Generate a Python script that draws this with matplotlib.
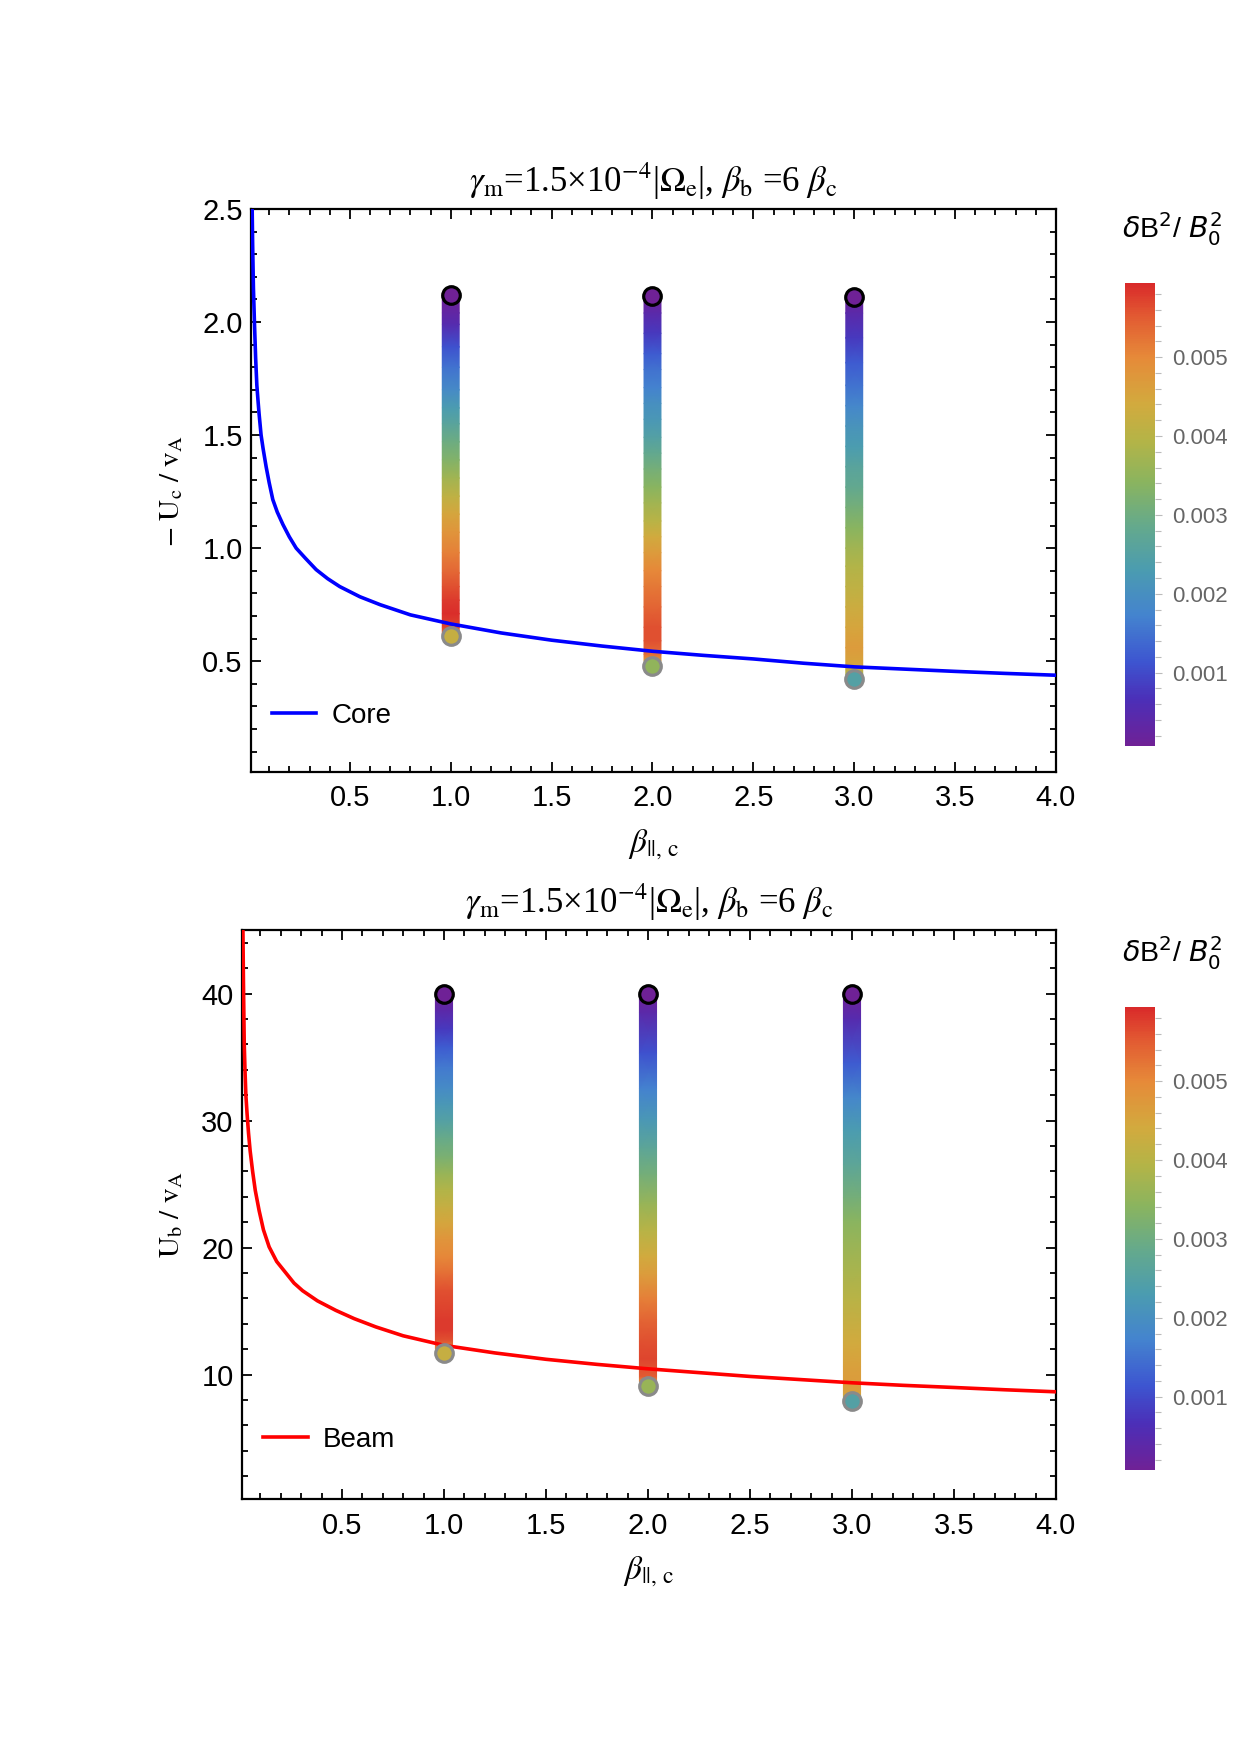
import numpy as np
import matplotlib
matplotlib.use("Agg")
import matplotlib.pyplot as plt
from matplotlib.colors import LinearSegmentedColormap, Normalize
from matplotlib.cm import ScalarMappable
from matplotlib.ticker import MultipleLocator, FormatStrFormatter

plt.rcParams['font.family'] = ['Liberation Sans', 'DejaVu Sans']
plt.rcParams['mathtext.fontset'] = 'stix'

# threshold curves
beta_core = [0.012, 0.015, 0.018, 0.022, 0.027, 0.033, 0.039, 0.045, 0.05, 0.06, 0.07, 0.085,
             0.1, 0.118, 0.14, 0.168, 0.2, 0.234, 0.28, 0.333, 0.39, 0.45, 0.55, 0.65, 0.8,
             0.9, 1.0, 1.25, 1.5, 1.75, 2.0, 2.25, 2.5, 2.75, 3.0, 3.25, 3.5, 3.75, 4.0]
u_core = [2.85, 2.55, 2.35, 2.15, 2.0, 1.84, 1.72, 1.65, 1.595, 1.50, 1.44, 1.36,
          1.29, 1.215, 1.16, 1.105, 1.05, 1.0, 0.955, 0.905, 0.865, 0.83, 0.785, 0.75, 0.705,
          0.685, 0.665, 0.625, 0.593, 0.567, 0.544, 0.526, 0.51, 0.491, 0.475, 0.465, 0.455,
          0.446, 0.438]

beta_beam = [0.012, 0.014, 0.017, 0.021, 0.025, 0.029, 0.035, 0.042, 0.05, 0.062, 0.075,
             0.094, 0.115, 0.143, 0.18, 0.225, 0.265, 0.307, 0.38, 0.47, 0.56, 0.666, 0.8,
             1.0, 1.25, 1.5, 1.75, 2.0, 2.25, 2.5, 2.75, 3.0, 3.25, 3.5, 3.75, 4.0]
u_beam = [50, 46, 41, 36, 33.8, 32.0, 30.5, 29.0, 27.6, 26.0, 24.5,
          22.9, 21.4, 20.05, 18.9, 18.0, 17.2, 16.6, 15.8, 15.05, 14.4, 13.75, 13.05,
          12.3, 11.7, 11.2, 10.8, 10.45, 10.15, 9.85, 9.6, 9.35, 9.15, 8.98, 8.8, 8.64]

beta_runs = [1.0, 2.0, 3.0]

# core drift runs (U, dB^2/B0^2)
core_u_1 = [2.12, 2.04, 1.99, 1.89, 1.80, 1.70, 1.62, 1.55, 1.47, 1.39, 1.31, 1.23, 1.15, 1.07,
            0.98, 0.89, 0.83, 0.77, 0.71, 0.65, 0.62]
core_db_1 = [0.00007, 0.0003, 0.0005, 0.0011, 0.0015, 0.0019, 0.0023, 0.0026, 0.0030, 0.0033,
             0.0037, 0.0041, 0.0045, 0.0048, 0.0051, 0.0054, 0.0056, 0.0058, 0.0059, 0.0057,
             0.0052]
core_u_2 = [2.115, 2.04, 1.95, 1.86, 1.79, 1.71, 1.64, 1.57, 1.49, 1.42, 1.35, 1.27, 1.20, 1.12,
            1.05, 0.98, 0.90, 0.83, 0.74, 0.65, 0.59, 0.53, 0.50]
core_db_2 = [0.00007, 0.0004, 0.0008, 0.0012, 0.0015, 0.0017, 0.0020, 0.0022, 0.0025, 0.0028,
             0.0031, 0.0034, 0.0037, 0.0040, 0.0044, 0.0047, 0.0050, 0.0052, 0.0054, 0.0056,
             0.0056, 0.0053, 0.0046]
core_u_3 = [2.11, 2.04, 1.93, 1.82, 1.72, 1.63, 1.54, 1.45, 1.36, 1.27, 1.18, 1.09, 1.00, 0.92,
            0.83, 0.74, 0.65, 0.56, 0.48, 0.44]
core_db_3 = [0.00007, 0.0004, 0.0008, 0.0012, 0.0015, 0.0018, 0.0021, 0.0023, 0.0026, 0.0028,
             0.0031, 0.0034, 0.0037, 0.0039, 0.0041, 0.0043, 0.0045, 0.0047, 0.0045, 0.0038]
core_end_u = [0.61, 0.48, 0.42]
core_end_db = [0.0042, 0.0035, 0.0025]

# beam drift runs
beam_u_1 = [40.0, 38.6, 37.2, 35.8, 34.2, 32.6, 31.3, 30.0, 28.6, 27.1, 25.8, 24.5, 23.2, 21.9,
            20.6, 19.3, 17.9, 16.6, 15.4, 14.3, 13.5, 12.7, 12.0]
beam_db_1 = [0.00007, 0.0004, 0.0008, 0.0012, 0.0016, 0.0019, 0.0022, 0.0025, 0.0029, 0.0032,
             0.0036, 0.0039, 0.0042, 0.0045, 0.0048, 0.0050, 0.0053, 0.0056, 0.0057, 0.0058,
             0.0058, 0.0056, 0.0050]
beam_u_2 = [40.0, 38.5, 35.3, 32.5, 30.1, 27.8, 25.7, 23.4, 21.3, 19.3, 17.8, 16.0, 14.3, 12.6,
            11.2, 9.8, 9.4]
beam_db_2 = [0.00007, 0.0004, 0.0011, 0.0017, 0.0022, 0.0027, 0.0031, 0.0036, 0.0040, 0.0044,
             0.0047, 0.0051, 0.0054, 0.0056, 0.0057, 0.0055, 0.0047]
beam_u_3 = [40.0, 38.0, 34.5, 31.8, 29.2, 26.5, 23.9, 22.1, 20.4, 18.2, 16.0, 14.2, 12.5, 10.6,
            9.0, 8.4, 8.1]
beam_db_3 = [0.00007, 0.0005, 0.0012, 0.0018, 0.0023, 0.0027, 0.0031, 0.0034, 0.0036, 0.0038,
             0.0040, 0.0042, 0.0044, 0.0046, 0.0047, 0.0045, 0.0038]
beam_end_u = [11.7, 9.1, 7.9]
beam_end_db = [0.0042, 0.0036, 0.0025]

cbar_ticks = [0.001, 0.002, 0.003, 0.004, 0.005]
db_min, db_max = 0.00007, 0.00594

# Mathematica-like rainbow
rainbow_pos = [0.0, 0.10, 0.18, 0.28, 0.38, 0.48, 0.57, 0.66, 0.74, 0.84, 0.93, 1.0]
rainbow_hex = ['#6f2196', '#4b2fb8', '#3d55d0', '#4483cf', '#4b9cb0', '#66aa8a', '#8ab45f',
               '#b4b447', '#d2aa3e', '#e68a39', '#e25a32', '#d92a2a']
cmap = LinearSegmentedColormap.from_list('rainbow_m', list(zip(rainbow_pos, rainbow_hex)))
norm = Normalize(vmin=db_min, vmax=db_max)

W, H = 1241, 1754
fig = plt.figure(figsize=(W / 100, H / 100), dpi=100)

title = r'$\gamma_{\rm m}$=1.5×10$^{-4}$|$\Omega_{\rm e}$|, $\beta_{\rm b}$ =6 $\beta_{\rm c}$'
xlab = r'$\beta_{||,\,\rm c}$'
serif = ['Liberation Serif', 'DejaVu Serif']


def frac(x0, y0, x1, y1):
    return [x0 / W, 1 - y1 / H, (x1 - x0) / W, (y1 - y0) / H]


def draw_run(ax, x, u, db, end_u, end_db, half_w=0.042):
    u = np.asarray(u, float)
    db = np.asarray(db, float)
    X = np.column_stack([np.full_like(u, x - half_w), np.full_like(u, x + half_w)])
    Y = np.column_stack([u, u])
    C = np.column_stack([db, db])
    ax.pcolormesh(X, Y, C, shading='gouraud', cmap=cmap, norm=norm, zorder=3)
    ax.scatter([x], [u[0]], s=160, c=[db[0]], cmap=cmap, norm=norm,
               edgecolors='black', linewidths=2.3, zorder=5)
    ax.scatter([x], [end_u], s=160, c=[end_db], cmap=cmap, norm=norm,
               edgecolors='#8a8a8a', linewidths=2.3, zorder=5)


def style_axes(ax, ymajor, yminor, yfmt):
    ax.set_xlim(0.01, 4.0)
    ax.xaxis.set_major_locator(MultipleLocator(0.5))
    ax.xaxis.set_minor_locator(MultipleLocator(0.1))
    ax.xaxis.set_major_formatter(FormatStrFormatter('%.1f'))
    ax.yaxis.set_major_locator(MultipleLocator(ymajor))
    ax.yaxis.set_minor_locator(MultipleLocator(yminor))
    ax.yaxis.set_major_formatter(FormatStrFormatter(yfmt))
    ax.tick_params(which='both', direction='in', top=True, right=True, width=1.3)
    ax.tick_params(which='major', length=7, labelsize=21, pad=9)
    ax.tick_params(which='minor', length=4)
    ax.tick_params(axis='y', pad=6)
    for s in ax.spines.values():
        s.set_linewidth(1.6)
    ax.set_title(title, fontsize=25, family=serif, pad=12)
    ax.set_xlabel(xlab, fontsize=24, family=serif, labelpad=11)


def add_cbar(y0, y1, title_y):
    cax = fig.add_axes(frac(1125, y0, 1155, y1))
    cb = fig.colorbar(ScalarMappable(norm=norm, cmap=cmap), cax=cax)
    cb.outline.set_visible(False)
    cb.set_ticks(cbar_ticks)
    cb.ax.yaxis.set_major_formatter(FormatStrFormatter('%.3f'))
    cb.ax.yaxis.set_minor_locator(MultipleLocator(0.0002))
    cb.ax.tick_params(which='both', colors='#bbbbbb', labelcolor='#666666', width=0.8)
    cb.ax.tick_params(which='major', length=5, labelsize=16, pad=7)
    cb.ax.tick_params(which='minor', length=4)
    fig.text(1172 / W, 1 - title_y / H, r'$\delta$B$^2$/ $B_0^2$', fontsize=20.5,
             ha='center', va='center', math_fontfamily='dejavusans')


# top panel: core
ax1 = fig.add_axes(frac(251, 209, 1056, 772))
line1, = ax1.plot(beta_core, u_core, color='#0000ff', lw=2.6, zorder=4,
                  solid_joinstyle='round')
for b, u, d, eu, ed in zip(beta_runs, [core_u_1, core_u_2, core_u_3],
                           [core_db_1, core_db_2, core_db_3], core_end_u, core_end_db):
    draw_run(ax1, b, u, d, eu, ed)
ax1.set_ylim(0.01, 2.5)
style_axes(ax1, 0.5, 0.1, '%.1f')
ax1.set_ylabel(r'$-\ \mathrm{U_c}\ /\ \mathrm{v_A}$', fontsize=21, family=serif, labelpad=12)
ax1.legend([line1], ['Core'], loc='center left', bbox_to_anchor=(0.026, 0.0995),
           frameon=False, fontsize=20, handlelength=1.6, handletextpad=0.55,
           borderpad=0, borderaxespad=0)
add_cbar(283, 746, 229)

# bottom panel: beam
ax2 = fig.add_axes(frac(242, 930, 1056, 1499))
line2, = ax2.plot(beta_beam, u_beam, color='#ff0000', lw=2.6, zorder=4,
                  solid_joinstyle='round')
for b, u, d, eu, ed in zip(beta_runs, [beam_u_1, beam_u_2, beam_u_3],
                           [beam_db_1, beam_db_2, beam_db_3], beam_end_u, beam_end_db):
    draw_run(ax2, b, u, d, eu, ed)
ax2.set_ylim(0.2, 45)
style_axes(ax2, 10, 2, '%d')
ax2.set_ylabel(r'$\mathrm{U_b}\ /\ \mathrm{v_A}$', fontsize=21, family=serif, labelpad=12)
ax2.legend([line2], ['Beam'], loc='center left', bbox_to_anchor=(0.026, 0.1045),
           frameon=False, fontsize=20, handlelength=1.6, handletextpad=0.55,
           borderpad=0, borderaxespad=0)
add_cbar(1007, 1470, 953)

fig.savefig('out.png', dpi=100)
